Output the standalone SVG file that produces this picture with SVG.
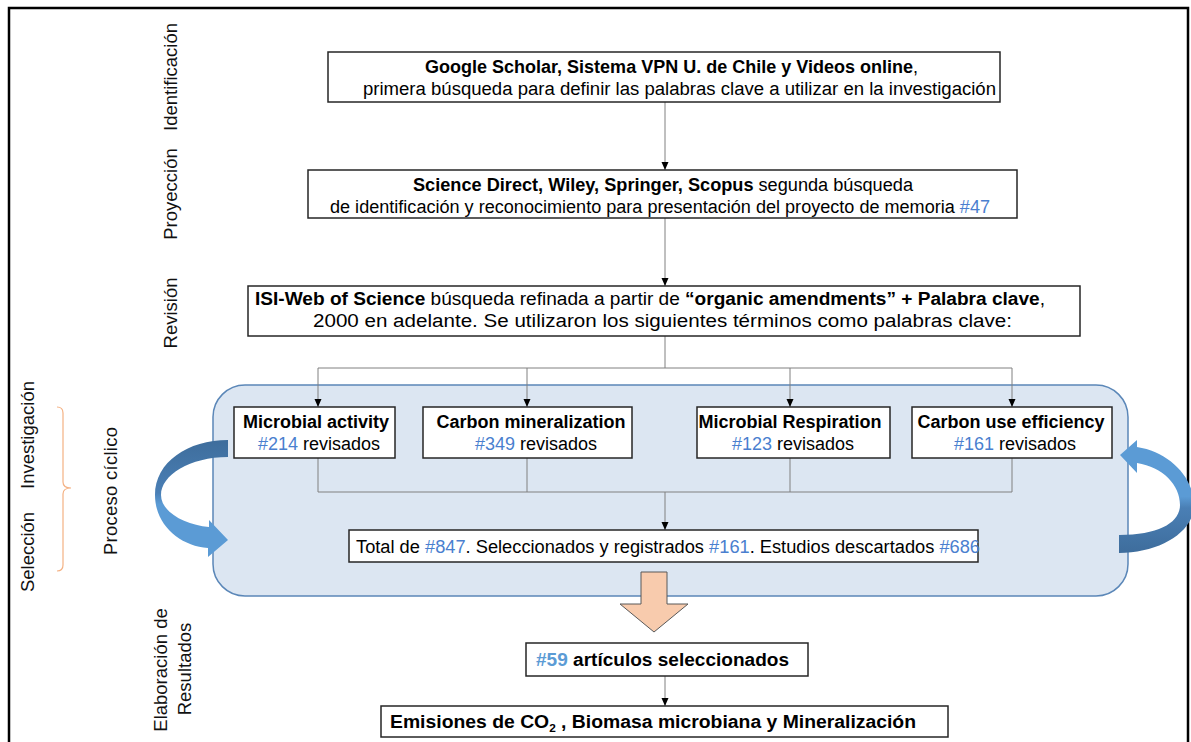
<svg xmlns="http://www.w3.org/2000/svg" width="1191" height="742" viewBox="0 0 1191 742">
<style>
.box{fill:#fff;stroke:#262626;stroke-width:1.5}
.n{font-family:"Liberation Sans Narrow","Arial Narrow","Liberation Sans",Arial,sans-serif;font-size:18px;fill:#000}
.r{font-family:"Liberation Sans",Arial,sans-serif;font-size:18px;fill:#000}
.lbl{font-family:"Liberation Sans",Arial,sans-serif;font-size:18.5px;fill:#111}
.b{font-weight:bold}
.blue{fill:#4a7fcf}
.con{stroke:#808080;stroke-width:1;fill:none}
.arr{marker-end:url(#ah)}
</style>
<defs>
<marker id="ah" viewBox="0 0 8 8" refX="8" refY="4" markerWidth="8" markerHeight="8" markerUnits="userSpaceOnUse" orient="auto">
<path d="M0,0.5 L8,4 L0,7.5 Z" fill="#000"/>
</marker>
<linearGradient id="gl" x1="0" y1="0" x2="0" y2="1">
<stop offset="0" stop-color="#3e6d9c"/>
<stop offset="0.45" stop-color="#4a7fb5"/>
<stop offset="0.55" stop-color="#5b9bd5"/>
<stop offset="1" stop-color="#5b9bd5"/>
</linearGradient>
<linearGradient id="gr" x1="0" y1="0" x2="0" y2="1">
<stop offset="0" stop-color="#5b9bd5"/>
<stop offset="0.5" stop-color="#5b9bd5"/>
<stop offset="0.6" stop-color="#4a7fb5"/>
<stop offset="1" stop-color="#3e6d9c"/>
</linearGradient>
</defs>

<rect x="9" y="8" width="1179" height="760" fill="none" stroke="#000" stroke-width="2.5"/>

<g id="side-labels">
<text class="lbl" text-anchor="middle" transform="translate(177,77) rotate(-90)">Identificación</text>
<text class="lbl" text-anchor="middle" transform="translate(177,194) rotate(-90)">Proyección</text>
<text class="lbl" text-anchor="middle" transform="translate(177,313) rotate(-90)">Revisión</text>
<text class="lbl" text-anchor="middle" transform="translate(34,435) rotate(-90)">Investigación</text>
<text class="lbl" text-anchor="middle" transform="translate(34,552) rotate(-90)">Selección</text>
<text class="lbl" text-anchor="middle" transform="translate(117,491) rotate(-90)" textLength="128">Proceso cíclico</text>
<text class="lbl" text-anchor="middle" transform="translate(167,670) rotate(-90)">Elaboración de</text>
<text class="lbl" text-anchor="middle" transform="translate(191,669) rotate(-90)">Resultados</text>
<path d="M57,407 Q63,407 63,413 L63,482 Q63,488 71,488 Q63,488 63,494 L63,565 Q63,571 57,571" fill="none" stroke="#f4b183" stroke-width="1.2"/>
</g>

<g id="cycle-panel">
<rect x="213" y="385" width="915" height="211" rx="32" ry="32" fill="#dce6f2" stroke="#5b87b8" stroke-width="1.5"/>
</g>

<g id="cycle-arrows">
<path d="M228,440 C188,440 155,462 155,495 C155,525 180,546 208,548 L208,557 L228,540 L209,520 L209,527 C185,525 161,512 161,495 C161,475 190,457 228,457 Z" fill="url(#gl)"/>
<path d="M1119,553 C1160,553 1194,532 1194,505 C1194,478 1170,452 1137,447 L1137,440 L1120,455 L1137,473 L1137,463 C1163,467 1180,485 1180,505 C1180,522 1160,535 1119,535 Z" fill="url(#gr)"/>
</g>

<g id="connectors">
<line class="con arr" x1="665" y1="102" x2="665" y2="170"/>
<line class="con arr" x1="665" y1="218" x2="665" y2="286"/>
<line class="con" x1="665" y1="336" x2="665" y2="368"/>
<line class="con" x1="318" y1="368" x2="1012" y2="368"/>
<line class="con arr" x1="318" y1="368" x2="318" y2="407"/>
<line class="con arr" x1="527" y1="368" x2="527" y2="407"/>
<line class="con arr" x1="790" y1="368" x2="790" y2="407"/>
<line class="con arr" x1="1012" y1="368" x2="1012" y2="407"/>
<line class="con" x1="318" y1="458" x2="318" y2="492"/>
<line class="con" x1="527" y1="458" x2="527" y2="492"/>
<line class="con" x1="790" y1="458" x2="790" y2="492"/>
<line class="con" x1="1012" y1="458" x2="1012" y2="492"/>
<line class="con" x1="318" y1="492" x2="1012" y2="492"/>
<line class="con arr" x1="665" y1="492" x2="665" y2="530"/>
<path d="M641,572 L667,572 L667,604 L688,604 L654,632 L620,604 L641,604 Z" fill="#f8cbad" stroke="#595959" stroke-width="1"/>
<line class="con arr" x1="665" y1="676" x2="665" y2="706"/>
</g>

<g id="n-google">
<rect class="box" x="328" y="52" width="672" height="50"/>
<text class="n" x="425" y="73" textLength="493" lengthAdjust="spacingAndGlyphs"><tspan class="b">Google Scholar, Sistema VPN U. de Chile y Videos online</tspan>,</text>
<text class="n" x="363" y="95" textLength="633" lengthAdjust="spacingAndGlyphs">primera búsqueda para definir las palabras clave a utilizar en la investigación</text>
</g>

<g id="n-science">
<rect class="box" x="308" y="170" width="709" height="48"/>
<text class="n" x="413" y="191" textLength="500" lengthAdjust="spacingAndGlyphs"><tspan class="b">Science Direct, Wiley, Springer, Scopus</tspan> segunda búsqueda</text>
<text class="n" x="330" y="213" textLength="660" lengthAdjust="spacingAndGlyphs">de identificación y reconocimiento para presentación del proyecto de memoria <tspan class="blue">#47</tspan></text>
</g>

<g id="n-isi">
<rect class="box" x="248" y="286" width="832" height="50"/>
<text class="n" x="255" y="305" textLength="790" lengthAdjust="spacingAndGlyphs"><tspan class="b">ISI-Web of Science</tspan> búsqueda refinada a partir de <tspan class="b">“organic amendments” + Palabra clave</tspan>,</text>
<text class="n" x="313" y="327" textLength="699" lengthAdjust="spacingAndGlyphs">2000 en adelante. Se utilizaron los siguientes términos como palabras clave:</text>
</g>

<g id="n-activity">
<rect class="box" x="234" y="407" width="161" height="51"/>
<text class="r b" x="316" y="428" text-anchor="middle">Microbial activity</text>
<text class="r" x="319" y="450" text-anchor="middle"><tspan class="blue">#214</tspan> revisados</text>
</g>

<g id="n-mineralization">
<rect class="box" x="423" y="407" width="209" height="51"/>
<text class="r b" x="531" y="428" text-anchor="middle">Carbon mineralization</text>
<text class="r" x="536" y="450" text-anchor="middle"><tspan class="blue">#349</tspan> revisados</text>
</g>

<g id="n-respiration">
<rect class="box" x="697" y="407" width="193" height="51"/>
<text class="r b" x="790" y="428" text-anchor="middle">Microbial Respiration</text>
<text class="r" x="793" y="450" text-anchor="middle"><tspan class="blue">#123</tspan> revisados</text>
</g>

<g id="n-cue">
<rect class="box" x="912" y="407" width="200" height="51"/>
<text class="r b" x="1011" y="428" text-anchor="middle">Carbon use efficiency</text>
<text class="r" x="1015" y="450" text-anchor="middle"><tspan class="blue">#161</tspan> revisados</text>
</g>

<g id="n-total">
<rect class="box" x="349" y="530" width="629" height="32"/>
<text class="n" x="356" y="553" textLength="624" lengthAdjust="spacingAndGlyphs">Total de <tspan class="blue">#847</tspan>. Seleccionados y registrados <tspan class="blue">#161</tspan>. Estudios descartados <tspan class="blue">#686</tspan></text>
</g>

<g id="n-59">
<rect class="box" x="526" y="643" width="282" height="33"/>
<text class="n b" x="536" y="666" textLength="253" lengthAdjust="spacingAndGlyphs"><tspan fill="#5b9bd5">#59</tspan> artículos seleccionados</text>
</g>

<g id="n-emisiones">
<rect class="box" x="381" y="706" width="567" height="31"/>
<text class="n b" x="390" y="728" textLength="526" lengthAdjust="spacingAndGlyphs">Emisiones de CO<tspan font-size="11" dy="4">2</tspan><tspan dy="-4"> , Biomasa microbiana y Mineralización</tspan></text>
</g>
</svg>
